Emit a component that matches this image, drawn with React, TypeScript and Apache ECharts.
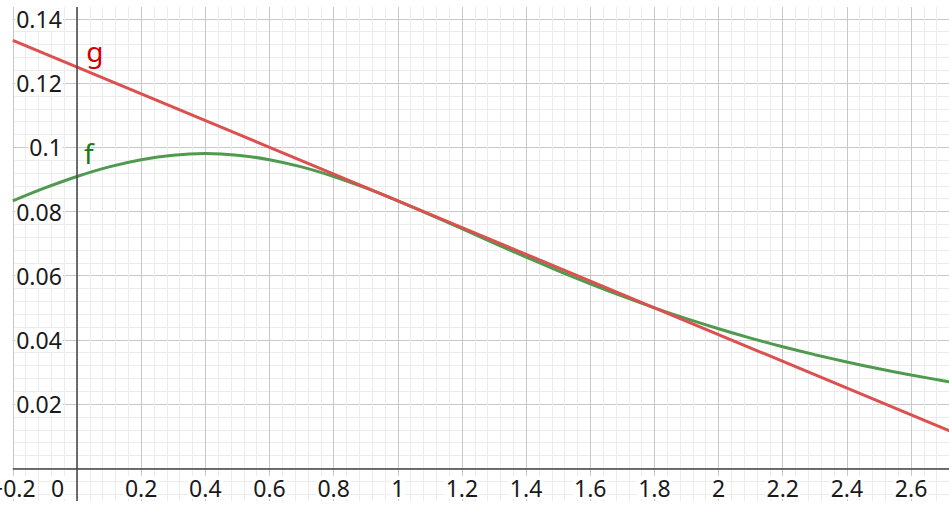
import React, { useEffect, useRef } from 'react';
import * as echarts from 'echarts';

const fX = [-0.2, -0.1, 0, 0.1, 0.2, 0.3, 0.4, 0.5, 0.6, 0.7, 0.8, 0.9, 1.0, 1.1, 1.2, 1.3, 1.4, 1.5, 1.6, 1.7, 1.8, 1.9, 2.0, 2.1, 2.2, 2.3, 2.4, 2.5, 2.6, 2.7, 2.8];
const fY = [0.08333, 0.08734, 0.09091, 0.0939, 0.09615, 0.09756, 0.09804, 0.09756, 0.09615, 0.0939, 0.09091, 0.08734, 0.08333, 0.07905, 0.07463, 0.07018, 0.06579, 0.06154, 0.05747, 0.05362, 0.05, 0.04662, 0.04348, 0.04057, 0.03788, 0.0354, 0.03311, 0.03101, 0.02907, 0.02729, 0.02564];
// g: straight line
const gX = [-0.2, 2.8];
const gY = [0.13333, 0.00833];
// labels of the curves and where they sit
const curveNames = ['f', 'g'];
const curveLabelPos = [[0.037, 0.0982], [0.056, 0.13]];

const FONT = '"Noto Sans", "Open Sans", sans-serif';

export default function App() {
  const ref = useRef<HTMLDivElement>(null);
  useEffect(() => {
    if (!ref.current) return;
    const chart = echarts.init(ref.current, undefined, { renderer: 'svg' });
    const fmtNum = (v: number) => {
      const r = Math.round(v * 100) / 100;
      return r < 0 ? '\u2212' + String(-r) : String(r);
    };
    const labelRich = {
      b: { fontSize: 23, fontFamily: FONT, color: '#1a1a1a', backgroundColor: '#fff', padding: [0, 1] },
      s: { width: 39, fontSize: 23 },
    };
    const option: any = {
      animation: false,
      backgroundColor: '#fff',
      grid: { left: 12.84, right: -26.2, top: -45.3, bottom: -25.5, containLabel: false, outerBoundsMode: 'none' },
      xAxis: {
        type: 'value', min: -0.2, max: 2.8, interval: 0.2,
        axisLine: { show: false, onZero: false },
        axisTick: { show: false },
        minorTick: { show: false, splitNumber: 5 },
        splitLine: { show: true, lineStyle: { color: '#c8c8c8', width: 1 } },
        minorSplitLine: { show: true, lineStyle: { color: '#ececec', width: 1 } },
        axisLabel: {
          margin: -56.5,
          formatter: (v: number) => {
            if (Math.abs(v) < 1e-9) return '{b|0}{s| }';
            return '{b|' + fmtNum(v) + '}';
          },
          rich: labelRich,
        },
      },
      yAxis: {
        type: 'value', min: -0.02, max: 0.16, interval: 0.02,
        axisLine: { show: false, onZero: false },
        axisTick: { show: false },
        minorTick: { show: false, splitNumber: 5 },
        splitLine: { show: true, lineStyle: { color: '#c8c8c8', width: 1 } },
        minorSplitLine: { show: true, lineStyle: { color: '#ececec', width: 1 } },
        axisLabel: {
          margin: -50,
          formatter: (v: number) => (v <= 1e-9 ? '' : '{b|' + fmtNum(v) + '}'),
          rich: labelRich,
        },
      },
      series: [
        {
          name: curveNames[0], type: 'line', smooth: 0.3, showSymbol: false, symbol: 'none',
          data: fX.map((x, i) => [x, fY[i]]),
          lineStyle: { color: '#4f9a4f', width: 3 },
          z: 3,
          markLine: {
            silent: true, symbol: 'none', label: { show: false },
            lineStyle: { color: '#444', width: 1.5, type: 'solid' },
            data: [{ xAxis: 0 }, { yAxis: 0 }],
          },
          markPoint: {
            symbol: 'circle', symbolSize: 0,
            data: [{ coord: curveLabelPos[0], value: curveNames[0] }],
            label: { show: true, formatter: curveNames[0], color: '#1f7a1f', fontSize: 28, fontFamily: FONT, position: 'inside' },
          },
        },
        {
          name: curveNames[1], type: 'line', showSymbol: false, symbol: 'none',
          data: gX.map((x, i) => [x, gY[i]]),
          lineStyle: { color: '#dc5050', width: 3 },
          z: 4,
          markPoint: {
            symbol: 'circle', symbolSize: 0,
            data: [{ coord: curveLabelPos[1], value: curveNames[1] }],
            label: { show: true, formatter: curveNames[1], color: '#d00000', fontSize: 28, fontFamily: FONT, position: 'inside' },
          },
        },
      ],
      graphic: [
        { type: 'rect', left: 0, top: 0, z: 100, shape: { width: 949, height: 7 }, style: { fill: '#fff' } },
        { type: 'rect', left: 0, bottom: 0, z: 100, shape: { width: 949, height: 6 }, style: { fill: '#fff' } },
      ],
    };
    chart.setOption(option);
    return () => chart.dispose();
  }, []);
  return <div ref={ref} style={{ position: 'fixed', left: 0, top: 0, width: 949, height: 507 }} />;
}
